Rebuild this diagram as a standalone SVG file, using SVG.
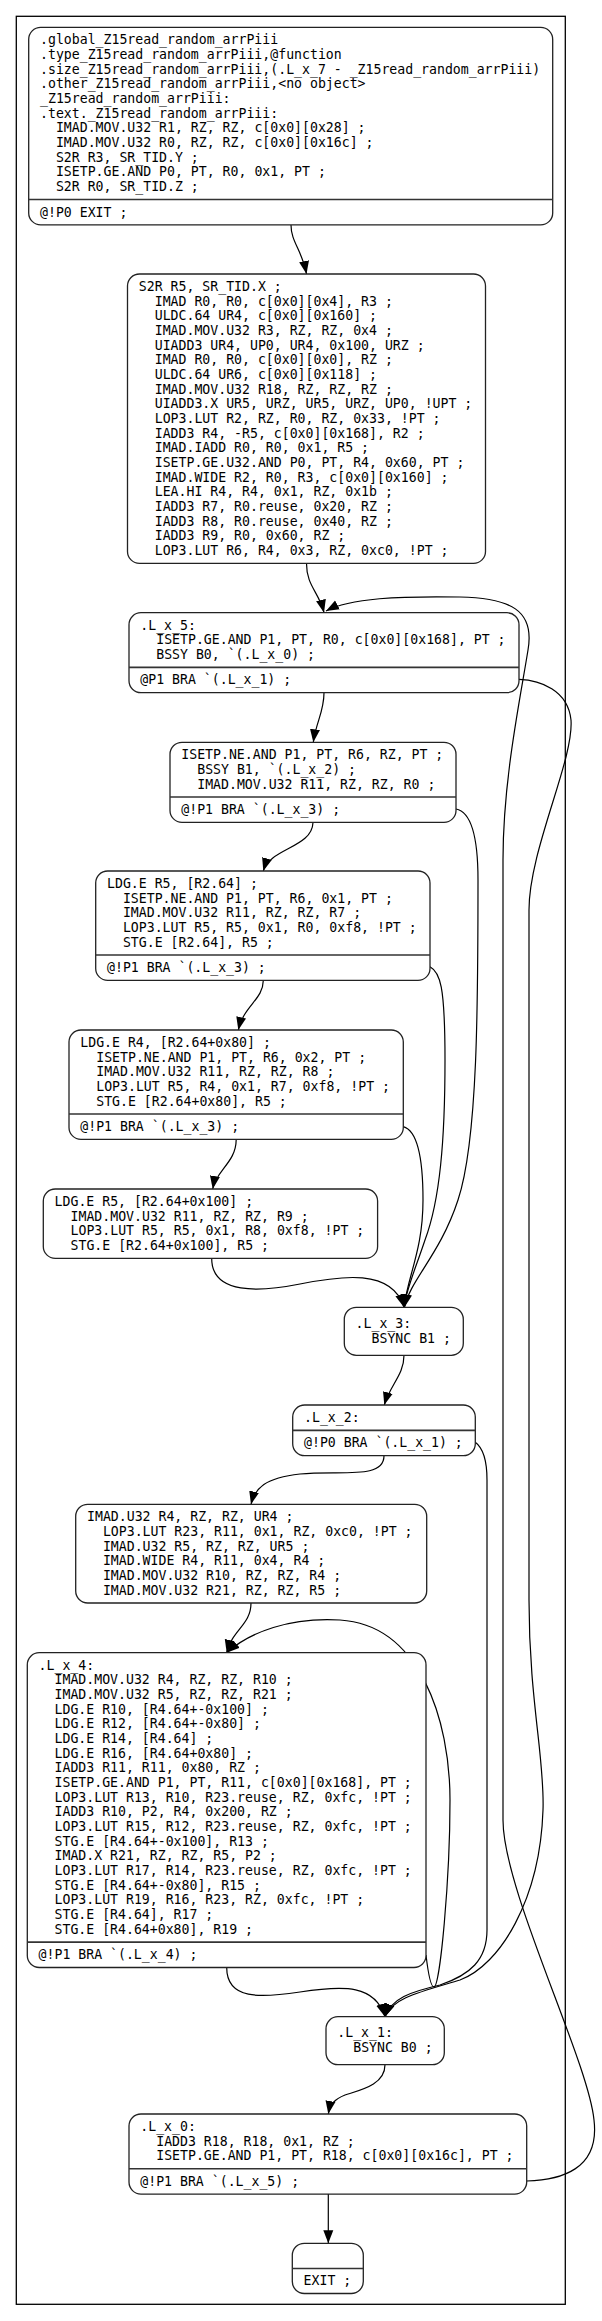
<svg xmlns="http://www.w3.org/2000/svg" width="602" height="2321" viewBox="0 0 602 2321">
<style>
.bg{fill:#ffffff}
.cl{fill:none;stroke:#000;stroke-width:1.3}
.nb{fill:#fff;stroke:#222;stroke-width:1.3}
.sp{stroke:#333;stroke-width:1.6}
.t{font-family:"DejaVu Sans Mono","Liberation Mono",monospace;font-size:13.2px;fill:#000}
.e{fill:none;stroke:#000;stroke-width:1.2;marker-end:url(#ah)}
</style>
<defs>
<marker id="ah" markerUnits="userSpaceOnUse" markerWidth="14" markerHeight="11" refX="13" refY="5" orient="auto" viewBox="0 0 14 10">
<path d="M0,0 L13,5 L0,10 z" fill="#000"/>
</marker>
</defs>
<rect class="bg" x="0" y="0" width="602" height="2321"/>
<rect class="cl" x="16.3" y="16.3" width="549" height="2288"/>

<g id="edges">
<path class="e" d="M291,224.9 C291,242 302,250 306.5,274"/>
<path class="e" d="M306.5,563.4 C306.5,586 319,592 324,612.7"/>
<path class="e" d="M324,692.7 C324,712 316,722 313.3,742.3"/>
<path class="e" d="M313,822.4 C312,848 270,848 263.3,871"/>
<path class="e" d="M263.3,980.4 C263,1000 244,1005 238.3,1030"/>
<path class="e" d="M236.2,1139.4 C236,1163 216,1170 212.7,1189"/>
<path class="e" d="M211.7,1258.4 C211.7,1295 260,1292 300,1284 C340,1276 392,1268 404,1307.3"/>
<path class="e" d="M456,809 C472,812 478,840 478,880 C478,1000 478,1140 458,1200 C440,1255 410,1280 404.5,1307.3"/>
<path class="e" d="M430,966.7 C440,972 445,985 445,1060 C445,1140 440,1200 425,1240 C415,1270 406,1290 404,1307.3"/>
<path class="e" d="M403.3,1126.7 C415,1130 423,1150 423,1200 C423,1250 408,1275 404,1307.3"/>
<path class="e" d="M404,1355.3 C404,1375 390,1385 384.3,1405"/>
<path class="e" d="M384,1455.7 C384,1480 340,1470 300,1474 C265,1478 255,1488 251,1504.3"/>
<path class="e" d="M475.3,1442.3 C483,1448 487,1460 487,1480 L487,1930 C487,1960 470,1975 440,1985 C410,1992 392,1998 385,2016.7"/>
<path class="e" d="M251,1603 C251,1625 232,1630 226.7,1652.7"/>
<path class="e" d="M426,1955 C428,1972 431,1987 434,1987 C440,1987 450,1880 450,1800 C450,1720 420,1625 340,1620 C290,1617 250,1632 226.7,1652.7"/>
<path class="e" d="M226.7,1967.5 C226.7,2000 260,1998 300,1992 C345,1985 375,1985 385,2016.7"/>
<path class="e" d="M519,679.3 C540,680 568,690 571,720 C574,760 529,850 529,910 L529,1600 C529,1700 545,1760 543,1810 C540,1900 500,1965 460,1980 C420,1992 392,1998 385,2016.7"/>
<path class="e" d="M385,2064.7 C385,2085 360,2090 345,2095 C335,2099 330,2104 328.3,2114"/>
<path class="e" d="M526.7,2181 C560,2180 600,2170 594,2120 C588,2060 503,1890 503,1820 L503,860 C503,780 520,700 528,650 C535,610 510,598 460,597 C400,596 350,598 326,611"/>
<path class="e" d="M328.3,2194.1 L328.3,2243.3"/>
</g>

<g id="n1">
<rect class="nb" x="28.7" y="27.4" width="524" height="197.5" rx="12"/>
<line class="sp" x1="28.7" y1="199.5" x2="552.7" y2="199.5"/>
<text class="t"><tspan x="40" y="44.4">.global_Z15read_random_arrPiii</tspan><tspan x="40" dy="14.67">.type_Z15read_random_arrPiii,@function</tspan><tspan x="40" dy="14.67">.size_Z15read_random_arrPiii,(.L_x_7 - _Z15read_random_arrPiii)</tspan><tspan x="40" dy="14.67">.other_Z15read_random_arrPiii,&lt;no object&gt;</tspan><tspan x="40" dy="14.67">_Z15read_random_arrPiii:</tspan><tspan x="40" dy="14.67">.text._Z15read_random_arrPiii:</tspan><tspan x="55.9" dy="14.67">IMAD.MOV.U32 R1, RZ, RZ, c[0x0][0x28] ;</tspan><tspan x="55.9" dy="14.67">IMAD.MOV.U32 R0, RZ, RZ, c[0x0][0x16c] ;</tspan><tspan x="55.9" dy="14.67">S2R R3, SR_TID.Y ;</tspan><tspan x="55.9" dy="14.67">ISETP.GE.AND P0, PT, R0, 0x1, PT ;</tspan><tspan x="55.9" dy="14.67">S2R R0, SR_TID.Z ;</tspan></text>
<text class="t" x="40" y="216.5">@!P0 EXIT ;</text>
</g>

<g id="n2">
<rect class="nb" x="127.5" y="274" width="358" height="289.4" rx="12"/>
<text class="t"><tspan x="138.8" y="291">S2R R5, SR_TID.X ;</tspan><tspan x="154.7" dy="14.67">IMAD R0, R0, c[0x0][0x4], R3 ;</tspan><tspan x="154.7" dy="14.67">ULDC.64 UR4, c[0x0][0x160] ;</tspan><tspan x="154.7" dy="14.67">IMAD.MOV.U32 R3, RZ, RZ, 0x4 ;</tspan><tspan x="154.7" dy="14.67">UIADD3 UR4, UP0, UR4, 0x100, URZ ;</tspan><tspan x="154.7" dy="14.67">IMAD R0, R0, c[0x0][0x0], RZ ;</tspan><tspan x="154.7" dy="14.67">ULDC.64 UR6, c[0x0][0x118] ;</tspan><tspan x="154.7" dy="14.67">IMAD.MOV.U32 R18, RZ, RZ, RZ ;</tspan><tspan x="154.7" dy="14.67">UIADD3.X UR5, URZ, UR5, URZ, UP0, !UPT ;</tspan><tspan x="154.7" dy="14.67">LOP3.LUT R2, RZ, R0, RZ, 0x33, !PT ;</tspan><tspan x="154.7" dy="14.67">IADD3 R4, -R5, c[0x0][0x168], R2 ;</tspan><tspan x="154.7" dy="14.67">IMAD.IADD R0, R0, 0x1, R5 ;</tspan><tspan x="154.7" dy="14.67">ISETP.GE.U32.AND P0, PT, R4, 0x60, PT ;</tspan><tspan x="154.7" dy="14.67">IMAD.WIDE R2, R0, R3, c[0x0][0x160] ;</tspan><tspan x="154.7" dy="14.67">LEA.HI R4, R4, 0x1, RZ, 0x1b ;</tspan><tspan x="154.7" dy="14.67">IADD3 R7, R0.reuse, 0x20, RZ ;</tspan><tspan x="154.7" dy="14.67">IADD3 R8, R0.reuse, 0x40, RZ ;</tspan><tspan x="154.7" dy="14.67">IADD3 R9, R0, 0x60, RZ ;</tspan><tspan x="154.7" dy="14.67">LOP3.LUT R6, R4, 0x3, RZ, 0xc0, !PT ;</tspan></text>
</g>

<g id="L_x_5">
<rect class="nb" x="129" y="612.7" width="390" height="80" rx="12"/>
<line class="sp" x1="129" y1="667.4" x2="519" y2="667.4"/>
<text class="t"><tspan x="140.3" y="629.7">.L_x_5:</tspan><tspan x="156.2" dy="14.67">ISETP.GE.AND P1, PT, R0, c[0x0][0x168], PT ;</tspan><tspan x="156.2" dy="14.67">BSSY B0, `(.L_x_0) ;</tspan></text>
<text class="t" x="140.3" y="684.4">@P1 BRA `(.L_x_1) ;</text>
</g>

<g id="n4">
<rect class="nb" x="170" y="742.3" width="286" height="80.1" rx="12"/>
<line class="sp" x1="170" y1="797" x2="456" y2="797"/>
<text class="t"><tspan x="181.3" y="759.3">ISETP.NE.AND P1, PT, R6, RZ, PT ;</tspan><tspan x="197.2" dy="14.67">BSSY B1, `(.L_x_2) ;</tspan><tspan x="197.2" dy="14.67">IMAD.MOV.U32 R11, RZ, RZ, R0 ;</tspan></text>
<text class="t" x="181.3" y="814">@!P1 BRA `(.L_x_3) ;</text>
</g>

<g id="n5">
<rect class="nb" x="95.7" y="871" width="334.3" height="109.4" rx="12"/>
<line class="sp" x1="95.7" y1="955.05" x2="430" y2="955.05"/>
<text class="t"><tspan x="107" y="888">LDG.E R5, [R2.64] ;</tspan><tspan x="122.9" dy="14.67">ISETP.NE.AND P1, PT, R6, 0x1, PT ;</tspan><tspan x="122.9" dy="14.67">IMAD.MOV.U32 R11, RZ, RZ, R7 ;</tspan><tspan x="122.9" dy="14.67">LOP3.LUT R5, R5, 0x1, R0, 0xf8, !PT ;</tspan><tspan x="122.9" dy="14.67">STG.E [R2.64], R5 ;</tspan></text>
<text class="t" x="107" y="972.05">@!P1 BRA `(.L_x_3) ;</text>
</g>

<g id="n6">
<rect class="nb" x="69" y="1030" width="334.3" height="109.4" rx="12"/>
<line class="sp" x1="69" y1="1114.05" x2="403.3" y2="1114.05"/>
<text class="t"><tspan x="80.3" y="1047">LDG.E R4, [R2.64+0x80] ;</tspan><tspan x="96.2" dy="14.67">ISETP.NE.AND P1, PT, R6, 0x2, PT ;</tspan><tspan x="96.2" dy="14.67">IMAD.MOV.U32 R11, RZ, RZ, R8 ;</tspan><tspan x="96.2" dy="14.67">LOP3.LUT R5, R4, 0x1, R7, 0xf8, !PT ;</tspan><tspan x="96.2" dy="14.67">STG.E [R2.64+0x80], R5 ;</tspan></text>
<text class="t" x="80.3" y="1131.05">@!P1 BRA `(.L_x_3) ;</text>
</g>

<g id="n7">
<rect class="nb" x="43.3" y="1189" width="334.3" height="69.4" rx="12"/>
<text class="t"><tspan x="54.6" y="1206">LDG.E R5, [R2.64+0x100] ;</tspan><tspan x="70.5" dy="14.67">IMAD.MOV.U32 R11, RZ, RZ, R9 ;</tspan><tspan x="70.5" dy="14.67">LOP3.LUT R5, R5, 0x1, R8, 0xf8, !PT ;</tspan><tspan x="70.5" dy="14.67">STG.E [R2.64+0x100], R5 ;</tspan></text>
</g>

<g id="L_x_3">
<rect class="nb" x="344.3" y="1307.3" width="119" height="48" rx="12"/>
<text class="t"><tspan x="355.6" y="1328">.L_x_3:</tspan><tspan x="371.5" dy="14.67">BSYNC B1 ;</tspan></text>
</g>

<g id="L_x_2">
<rect class="nb" x="292.7" y="1405" width="182.6" height="50.7" rx="12"/>
<line class="sp" x1="292.7" y1="1430.4" x2="475.3" y2="1430.4"/>
<text class="t" x="304" y="1422">.L_x_2:</text>
<text class="t" x="304" y="1447.4">@!P0 BRA `(.L_x_1) ;</text>
</g>

<g id="n9">
<rect class="nb" x="75.7" y="1504.3" width="351" height="98.7" rx="12"/>
<text class="t"><tspan x="87" y="1521.3">IMAD.U32 R4, RZ, RZ, UR4 ;</tspan><tspan x="102.9" dy="14.67">LOP3.LUT R23, R11, 0x1, RZ, 0xc0, !PT ;</tspan><tspan x="102.9" dy="14.67">IMAD.U32 R5, RZ, RZ, UR5 ;</tspan><tspan x="102.9" dy="14.67">IMAD.WIDE R4, R11, 0x4, R4 ;</tspan><tspan x="102.9" dy="14.67">IMAD.MOV.U32 R10, RZ, RZ, R4 ;</tspan><tspan x="102.9" dy="14.67">IMAD.MOV.U32 R21, RZ, RZ, R5 ;</tspan></text>
</g>

<g id="L_x_4">
<rect class="nb" x="27.3" y="1652.7" width="398.7" height="314.8" rx="12"/>
<line class="sp" x1="27.3" y1="1942.1" x2="426" y2="1942.1"/>
<text class="t"><tspan x="38.6" y="1669.7">.L_x_4:</tspan><tspan x="54.5" dy="14.67">IMAD.MOV.U32 R4, RZ, RZ, R10 ;</tspan><tspan x="54.5" dy="14.67">IMAD.MOV.U32 R5, RZ, RZ, R21 ;</tspan><tspan x="54.5" dy="14.67">LDG.E R10, [R4.64+-0x100] ;</tspan><tspan x="54.5" dy="14.67">LDG.E R12, [R4.64+-0x80] ;</tspan><tspan x="54.5" dy="14.67">LDG.E R14, [R4.64] ;</tspan><tspan x="54.5" dy="14.67">LDG.E R16, [R4.64+0x80] ;</tspan><tspan x="54.5" dy="14.67">IADD3 R11, R11, 0x80, RZ ;</tspan><tspan x="54.5" dy="14.67">ISETP.GE.AND P1, PT, R11, c[0x0][0x168], PT ;</tspan><tspan x="54.5" dy="14.67">LOP3.LUT R13, R10, R23.reuse, RZ, 0xfc, !PT ;</tspan><tspan x="54.5" dy="14.67">IADD3 R10, P2, R4, 0x200, RZ ;</tspan><tspan x="54.5" dy="14.67">LOP3.LUT R15, R12, R23.reuse, RZ, 0xfc, !PT ;</tspan><tspan x="54.5" dy="14.67">STG.E [R4.64+-0x100], R13 ;</tspan><tspan x="54.5" dy="14.67">IMAD.X R21, RZ, RZ, R5, P2 ;</tspan><tspan x="54.5" dy="14.67">LOP3.LUT R17, R14, R23.reuse, RZ, 0xfc, !PT ;</tspan><tspan x="54.5" dy="14.67">STG.E [R4.64+-0x80], R15 ;</tspan><tspan x="54.5" dy="14.67">LOP3.LUT R19, R16, R23, RZ, 0xfc, !PT ;</tspan><tspan x="54.5" dy="14.67">STG.E [R4.64], R17 ;</tspan><tspan x="54.5" dy="14.67">STG.E [R4.64+0x80], R19 ;</tspan></text>
<text class="t" x="38.6" y="1959.1">@!P1 BRA `(.L_x_4) ;</text>
</g>

<g id="L_x_1">
<rect class="nb" x="326" y="2016.7" width="118.3" height="48" rx="12"/>
<text class="t"><tspan x="337.3" y="2037.4">.L_x_1:</tspan><tspan x="353.2" dy="14.67">BSYNC B0 ;</tspan></text>
</g>

<g id="L_x_0">
<rect class="nb" x="129" y="2114" width="397.7" height="80.1" rx="12"/>
<line class="sp" x1="129" y1="2168.7" x2="526.7" y2="2168.7"/>
<text class="t"><tspan x="140.3" y="2131">.L_x_0:</tspan><tspan x="156.2" dy="14.67">IADD3 R18, R18, 0x1, RZ ;</tspan><tspan x="156.2" dy="14.67">ISETP.GE.AND P1, PT, R18, c[0x0][0x16c], PT ;</tspan></text>
<text class="t" x="140.3" y="2185.7">@!P1 BRA `(.L_x_5) ;</text>
</g>

<g id="EXIT">
<rect class="nb" x="292.3" y="2243.3" width="71" height="50.2" rx="12"/>
<line class="sp" x1="292.3" y1="2268.5" x2="363.3" y2="2268.5"/>
<text class="t" x="303.6" y="2285.3">EXIT ;</text>
</g>
</svg>
